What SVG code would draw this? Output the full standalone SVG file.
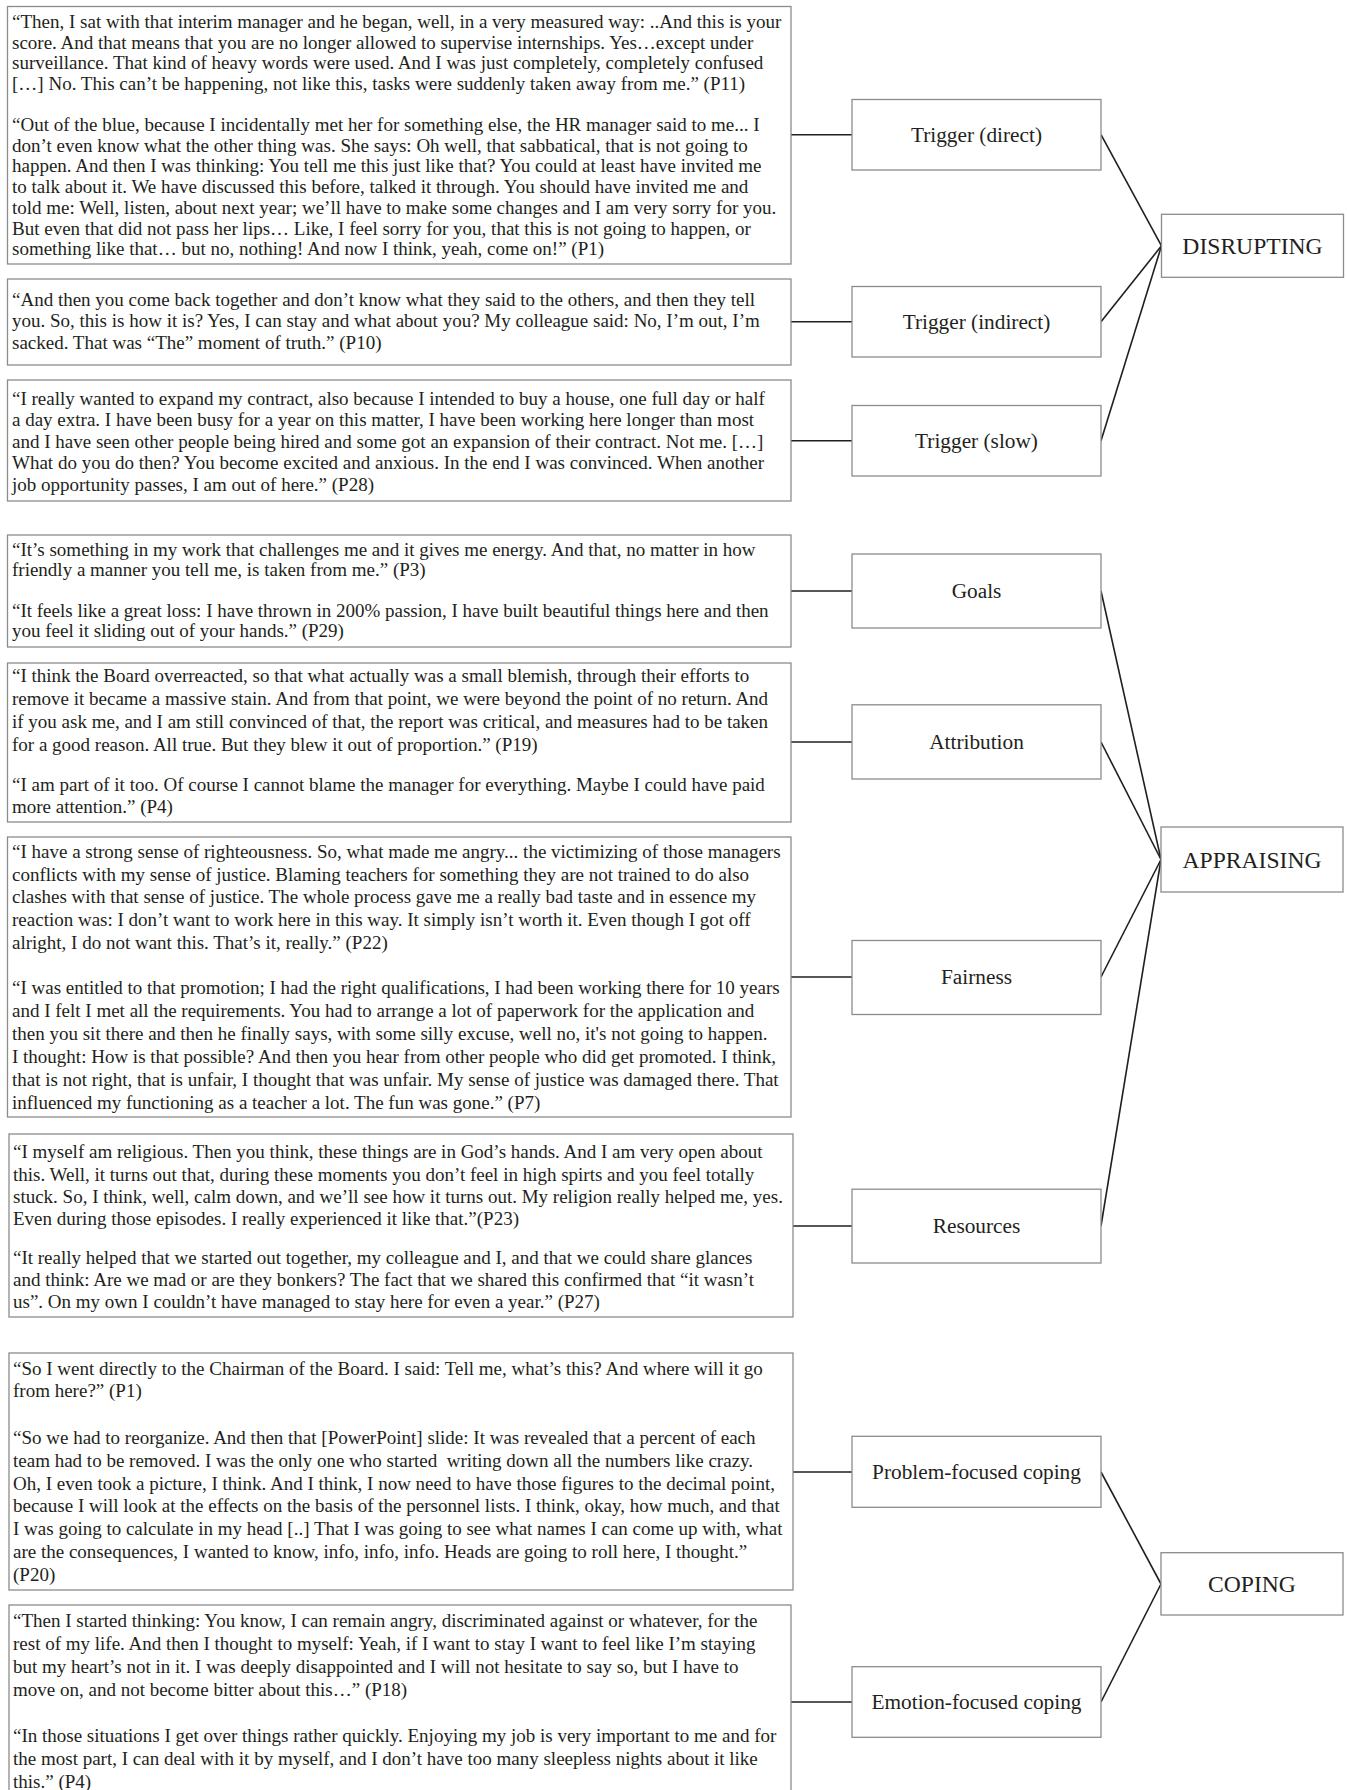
<svg xmlns="http://www.w3.org/2000/svg" width="1347" height="1790" viewBox="0 0 1347 1790">
<style>
.bg{fill:#ffffff}
.box{fill:#ffffff;stroke:#8c8c8c;stroke-width:1.3}
.q{font-family:"Liberation Serif","Times New Roman",serif;font-size:19px;fill:#231f20}
.lbl{font-family:"Liberation Serif","Times New Roman",serif;font-size:21.3px;fill:#231f20;text-anchor:middle}
.big{font-size:23.6px}
.conn{stroke:#1f1f1f;stroke-width:1.6;fill:none}
.pre{white-space:pre}
</style>
<rect class="bg" x="0" y="0" width="1347" height="1790"/>

<g id="connectors">
<line class="conn" x1="791" y1="134.7" x2="852" y2="134.7"/>
<line class="conn" x1="791" y1="321.7" x2="852" y2="321.7"/>
<line class="conn" x1="791" y1="440.8" x2="852" y2="440.8"/>
<line class="conn" x1="791" y1="591" x2="852" y2="591"/>
<line class="conn" x1="791" y1="742" x2="852" y2="742"/>
<line class="conn" x1="791" y1="977" x2="852" y2="977"/>
<line class="conn" x1="793" y1="1226" x2="852" y2="1226"/>
<line class="conn" x1="793" y1="1472" x2="852" y2="1472"/>
<line class="conn" x1="791" y1="1702" x2="852" y2="1702"/>
<line class="conn" x1="1101" y1="134.7" x2="1161.5" y2="245.8"/>
<line class="conn" x1="1101" y1="321.7" x2="1161.5" y2="245.8"/>
<line class="conn" x1="1101" y1="440.8" x2="1161.5" y2="245.8"/>
<line class="conn" x1="1101" y1="591" x2="1161" y2="859.5"/>
<line class="conn" x1="1101" y1="742" x2="1161" y2="859.5"/>
<line class="conn" x1="1101" y1="977" x2="1161" y2="859.5"/>
<line class="conn" x1="1101" y1="1226" x2="1161" y2="859.5"/>
<line class="conn" x1="1101" y1="1472" x2="1161" y2="1584"/>
<line class="conn" x1="1101" y1="1702" x2="1161" y2="1584"/>
</g>

<g id="quote-p11-p1">
<rect class="box" x="7.5" y="6.5" width="783.5" height="257.5"/>
<text class="q">
<tspan x="12" y="28">“Then, I sat with that interim manager and he began, well, in a very measured way: ..And this is your</tspan>
<tspan x="12" y="48.7">score. And that means that you are no longer allowed to supervise internships. Yes…except under</tspan>
<tspan x="12" y="69.4">surveillance. That kind of heavy words were used. And I was just completely, completely confused</tspan>
<tspan x="12" y="90.1">[…] No. This can’t be happening, not like this, tasks were suddenly taken away from me.” (P11)</tspan>
<tspan x="12" y="131">“Out of the blue, because I incidentally met her for something else, the HR manager said to me... I</tspan>
<tspan x="12" y="151.7">don’t even know what the other thing was. She says: Oh well, that sabbatical, that is not going to</tspan>
<tspan x="12" y="172.4">happen. And then I was thinking: You tell me this just like that? You could at least have invited me</tspan>
<tspan x="12" y="193.1">to talk about it. We have discussed this before, talked it through. You should have invited me and</tspan>
<tspan x="12" y="213.8">told me: Well, listen, about next year; we’ll have to make some changes and I am very sorry for you.</tspan>
<tspan x="12" y="234.5">But even that did not pass her lips… Like, I feel sorry for you, that this is not going to happen, or</tspan>
<tspan x="12" y="255.2">something like that… but no, nothing! And now I think, yeah, come on!” (P1)</tspan>
</text>
</g>

<g id="quote-p10">
<rect class="box" x="7.5" y="279" width="783.5" height="86"/>
<text class="q">
<tspan x="12" y="305.5">“And then you come back together and don’t know what they said to the others, and then they tell</tspan>
<tspan x="12" y="327.3">you. So, this is how it is? Yes, I can stay and what about you? My colleague said: No, I’m out, I’m</tspan>
<tspan x="12" y="349">sacked. That was “The” moment of truth.” (P10)</tspan>
</text>
</g>

<g id="quote-p28">
<rect class="box" x="7.5" y="380" width="783.5" height="121"/>
<text class="q">
<tspan x="12" y="404.5">“I really wanted to expand my contract, also because I intended to buy a house, one full day or half</tspan>
<tspan x="12" y="426">a day extra. I have been busy for a year on this matter, I have been working here longer than most</tspan>
<tspan x="12" y="447.5">and I have seen other people being hired and some got an expansion of their contract. Not me. […]</tspan>
<tspan x="12" y="469">What do you do then? You become excited and anxious. In the end I was convinced. When another</tspan>
<tspan x="12" y="490.5">job opportunity passes, I am out of here.” (P28)</tspan>
</text>
</g>

<g id="quote-p3-p29">
<rect class="box" x="7.5" y="535" width="783.5" height="112"/>
<text class="q">
<tspan x="12" y="555.5">“It’s something in my work that challenges me and it gives me energy. And that, no matter in how</tspan>
<tspan x="12" y="576">friendly a manner you tell me, is taken from me.” (P3)</tspan>
<tspan x="12" y="616.5">“It feels like a great loss: I have thrown in 200% passion, I have built beautiful things here and then</tspan>
<tspan x="12" y="636.5">you feel it sliding out of your hands.” (P29)</tspan>
</text>
</g>

<g id="quote-p19-p4">
<rect class="box" x="7.5" y="663" width="783.5" height="159"/>
<text class="q">
<tspan x="12" y="681.5">“I think the Board overreacted, so that what actually was a small blemish, through their efforts to</tspan>
<tspan x="12" y="704.5">remove it became a massive stain. And from that point, we were beyond the point of no return. And</tspan>
<tspan x="12" y="727.5">if you ask me, and I am still convinced of that, the report was critical, and measures had to be taken</tspan>
<tspan x="12" y="750.5">for a good reason. All true. But they blew it out of proportion.” (P19)</tspan>
<tspan x="12" y="790.5">“I am part of it too. Of course I cannot blame the manager for everything. Maybe I could have paid</tspan>
<tspan x="12" y="813">more attention.” (P4)</tspan>
</text>
</g>

<g id="quote-p22-p7">
<rect class="box" x="7.5" y="837" width="783.5" height="280"/>
<text class="q">
<tspan x="12" y="857.5">“I have a strong sense of righteousness. So, what made me angry... the victimizing of those managers</tspan>
<tspan x="12" y="880.5">conflicts with my sense of justice. Blaming teachers for something they are not trained to do also</tspan>
<tspan x="12" y="903">clashes with that sense of justice. The whole process gave me a really bad taste and in essence my</tspan>
<tspan x="12" y="926">reaction was: I don’t want to work here in this way. It simply isn’t worth it. Even though I got off</tspan>
<tspan x="12" y="948.5">alright, I do not want this. That’s it, really.” (P22)</tspan>
<tspan x="12" y="994">“I was entitled to that promotion; I had the right qualifications, I had been working there for 10 years</tspan>
<tspan x="12" y="1017">and I felt I met all the requirements. You had to arrange a lot of paperwork for the application and</tspan>
<tspan x="12" y="1040">then you sit there and then he finally says, with some silly excuse, well no, it's not going to happen.</tspan>
<tspan x="12" y="1063">I thought: How is that possible? And then you hear from other people who did get promoted. I think,</tspan>
<tspan x="12" y="1086">that is not right, that is unfair, I thought that was unfair. My sense of justice was damaged there. That</tspan>
<tspan x="12" y="1108.5">influenced my functioning as a teacher a lot. The fun was gone.” (P7)</tspan>
</text>
</g>

<g id="quote-p23-p27">
<rect class="box" x="9" y="1134" width="784" height="183"/>
<text class="q">
<tspan x="13" y="1158">“I myself am religious. Then you think, these things are in God’s hands. And I am very open about</tspan>
<tspan x="13" y="1180.5">this. Well, it turns out that, during these moments you don’t feel in high spirts and you feel totally</tspan>
<tspan x="13" y="1203">stuck. So, I think, well, calm down, and we’ll see how it turns out. My religion really helped me, yes.</tspan>
<tspan x="13" y="1225">Even during those episodes. I really experienced it like that.”(P23)</tspan>
<tspan x="13" y="1264">“It really helped that we started out together, my colleague and I, and that we could share glances</tspan>
<tspan x="13" y="1286">and think: Are we mad or are they bonkers? The fact that we shared this confirmed that “it wasn’t</tspan>
<tspan x="13" y="1307.5">us”. On my own I couldn’t have managed to stay here for even a year.” (P27)</tspan>
</text>
</g>

<g id="quote-p1-p20">
<rect class="box" x="9" y="1353" width="784" height="237"/>
<text class="q pre">
<tspan x="13" y="1374.5">“So I went directly to the Chairman of the Board. I said: Tell me, what’s this? And where will it go</tspan>
<tspan x="13" y="1397">from here?” (P1)</tspan>
<tspan x="13" y="1444">“So we had to reorganize. And then that [PowerPoint] slide: It was revealed that a percent of each</tspan>
<tspan x="13" y="1467">team had to be removed. I was the only one who started  writing down all the numbers like crazy.</tspan>
<tspan x="13" y="1489.5">Oh, I even took a picture, I think. And I think, I now need to have those figures to the decimal point,</tspan>
<tspan x="13" y="1512">because I will look at the effects on the basis of the personnel lists. I think, okay, how much, and that</tspan>
<tspan x="13" y="1535">I was going to calculate in my head [..] That I was going to see what names I can come up with, what</tspan>
<tspan x="13" y="1558">are the consequences, I wanted to know, info, info, info. Heads are going to roll here, I thought.”</tspan>
<tspan x="13" y="1580.5">(P20)</tspan>
</text>
</g>

<g id="quote-p18-p4">
<rect class="box" x="9" y="1605" width="782" height="200"/>
<text class="q">
<tspan x="13" y="1626.5">“Then I started thinking: You know, I can remain angry, discriminated against or whatever, for the</tspan>
<tspan x="13" y="1650">rest of my life. And then I thought to myself: Yeah, if I want to stay I want to feel like I’m staying</tspan>
<tspan x="13" y="1673">but my heart’s not in it. I was deeply disappointed and I will not hesitate to say so, but I have to</tspan>
<tspan x="13" y="1696">move on, and not become bitter about this…” (P18)</tspan>
<tspan x="13" y="1741.5">“In those situations I get over things rather quickly. Enjoying my job is very important to me and for</tspan>
<tspan x="13" y="1765">the most part, I can deal with it by myself, and I don’t have too many sleepless nights about it like</tspan>
<tspan x="13" y="1787.5">this.” (P4)</tspan>
</text>
</g>

<g id="trigger-direct">
<rect class="box" x="852" y="99.5" width="249" height="70.5"/>
<text class="lbl" x="976.5" y="142">Trigger (direct)</text>
</g>
<g id="trigger-indirect">
<rect class="box" x="852" y="286.5" width="249" height="70.5"/>
<text class="lbl" x="976.5" y="329">Trigger (indirect)</text>
</g>
<g id="trigger-slow">
<rect class="box" x="852" y="405.5" width="249" height="70.5"/>
<text class="lbl" x="976.5" y="448">Trigger (slow)</text>
</g>
<g id="goals">
<rect class="box" x="852" y="554" width="249" height="74"/>
<text class="lbl" x="976.5" y="598.3">Goals</text>
</g>
<g id="attribution">
<rect class="box" x="852" y="704.8" width="249" height="74.2"/>
<text class="lbl" x="976.5" y="749.3">Attribution</text>
</g>
<g id="fairness">
<rect class="box" x="852" y="940.5" width="249" height="74"/>
<text class="lbl" x="976.5" y="984.3">Fairness</text>
</g>
<g id="resources">
<rect class="box" x="852" y="1189.2" width="249" height="73.8"/>
<text class="lbl" x="976.5" y="1233.3">Resources</text>
</g>
<g id="problem-focused-coping">
<rect class="box" x="852" y="1436.3" width="249" height="71"/>
<text class="lbl" x="976.5" y="1479.3">Problem-focused coping</text>
</g>
<g id="emotion-focused-coping">
<rect class="box" x="852" y="1666.7" width="249" height="70.6"/>
<text class="lbl" x="976.5" y="1709.3">Emotion-focused coping</text>
</g>

<g id="disrupting">
<rect class="box" x="1161.5" y="214.3" width="182" height="63"/>
<text class="lbl big" x="1252.5" y="254">DISRUPTING</text>
</g>
<g id="appraising">
<rect class="box" x="1161" y="827" width="182" height="65"/>
<text class="lbl big" x="1252" y="867.7">APPRAISING</text>
</g>
<g id="coping">
<rect class="box" x="1161" y="1552.7" width="182" height="62.3"/>
<text class="lbl big" x="1252" y="1592.2">COPING</text>
</g>
</svg>
